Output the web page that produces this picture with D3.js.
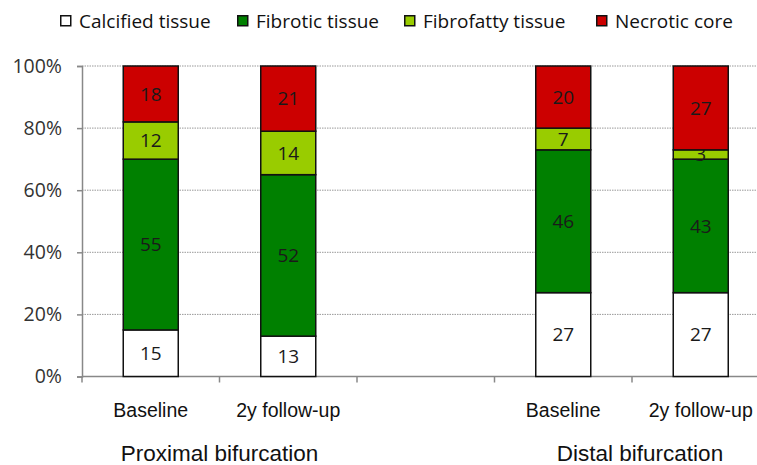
<!DOCTYPE html>
<html>
<head>
<meta charset="utf-8">
<script src="https://cdn.jsdelivr.net/npm/d3@7"></script>
<style>
  body { margin: 0; background: #fff; }
  svg { display: block; }
</style>
</head>
<body>
<div id="chart"></div>
<script>
// categories (slot 2 is the empty gap between the two groups)
var slots = ["Baseline", "2y follow-up", "", "Baseline", "2y follow-up"];
var groups = ["Proximal bifurcation", "Distal bifurcation"];
var groupSlots = [[0, 1], [3, 4]];
var series = ["Calcified tissue", "Fibrotic tissue", "Fibrofatty tissue", "Necrotic core"];
var colors = ["#ffffff", "#008000", "#99cc00", "#cc0000"];

// values in %, one per slot
var calcified = [15, 13, null, 27, 27];
var fibrotic = [55, 52, null, 46, 43];
var fibrofatty = [12, 14, null, 7, 3];
var necrotic = [18, 21, null, 20, 27];

var yTicks = [0, 20, 40, 60, 80, 100];

var width = 757, height = 465;
var margin = {top: 66, left: 82, bottom: 89};

var svg = d3.select("#chart")
  .append("svg")
  .attr("width", width)
  .attr("height", height);

var rows = slots.map(function(s, i) {
  return {slot: i, label: s, "Calcified tissue": calcified[i], "Fibrotic tissue": fibrotic[i],
    "Fibrofatty tissue": fibrofatty[i], "Necrotic core": necrotic[i]};
}).filter(function(d) { return d["Calcified tissue"] != null; });

var x = d3.scaleBand()
  .domain(d3.range(slots.length))
  .range([margin.left, margin.left + 137.5 * slots.length])
  .paddingInner(0.6)
  .paddingOuter(0.3);
var step = x.step();

var y = d3.scaleLinear()
  .domain([0, 100])
  .range([height - margin.bottom + 0.5, margin.top]);

// dotted grid
svg.append("g")
  .selectAll("line")
  .data(yTicks.filter(function(t) { return t > 0; }))
  .enter()
  .append("line")
    .attr("x1", margin.left)
    .attr("x2", width)
    .attr("y1", function(d) { return y(d); })
    .attr("y2", function(d) { return y(d); })
    .style("stroke", "#999")
    .style("stroke-width", 1)
    .style("stroke-dasharray", "1.5,1");

// y axis
var yAxis = svg.append("g")
  .attr("transform", "translate(" + margin.left + ",0)")
  .call(d3.axisLeft(y).tickValues(yTicks).tickSize(5).tickPadding(15)
    .tickFormat(function(d) { return d + "%"; }));
yAxis.select(".domain").style("stroke", "#888").style("stroke-width", 1.5);
yAxis.selectAll(".tick line").style("stroke", "#888").style("stroke-width", 1.5);
yAxis.selectAll("text")
  .attr("font-family", "'Open Sans', sans-serif")
  .attr("font-size", "19.5px")
  .attr("fill", "#333");

// x axis line with ticks at slot boundaries
svg.append("line")
  .attr("x1", margin.left).attr("x2", width)
  .attr("y1", y(0)).attr("y2", y(0))
  .style("stroke", "#888").style("stroke-width", 1.5);
svg.append("g")
  .selectAll("line")
  .data(d3.range(slots.length + 1))
  .enter()
  .append("line")
    .attr("x1", function(d) { return margin.left + d * step; })
    .attr("x2", function(d) { return margin.left + d * step; })
    .attr("y1", y(0))
    .attr("y2", y(0) + 6)
    .style("stroke", "#888").style("stroke-width", 1.5);

// stacked bars
var stack = d3.stack().keys(series)(rows);
var layers = svg.append("g")
  .selectAll("g")
  .data(stack)
  .enter()
  .append("g")
    .attr("fill", function(d, i) { return colors[i]; });

layers.selectAll("rect")
  .data(function(d) { return d; })
  .enter()
  .append("rect")
    .attr("x", function(d) { return x(d.data.slot); })
    .attr("y", function(d) { return y(d[1]); })
    .attr("width", x.bandwidth())
    .attr("height", function(d) { return y(d[0]) - y(d[1]); })
    .style("stroke", "#111")
    .style("stroke-width", 1.5);

layers.selectAll("text")
  .data(function(d) { return d; })
  .enter()
  .append("text")
    .attr("x", function(d) { return x(d.data.slot) + x.bandwidth() / 2; })
    .attr("y", function(d) { return (y(d[0]) + y(d[1])) / 2; })
    .attr("dy", "0.36em")
    .attr("text-anchor", "middle")
    .attr("font-family", "'Open Sans', sans-serif")
    .attr("font-size", "19px")
    .attr("fill", "#1a1a1a")
    .text(function(d) { return d[1] - d[0]; });

// category labels
var narrow = "'Liberation Sans Narrow', 'Arial Narrow', 'Liberation Sans', sans-serif";
svg.append("g")
  .selectAll("text")
  .data(rows)
  .enter()
  .append("text")
    .attr("x", function(d) { return x(d.slot) + x.bandwidth() / 2; })
    .attr("y", 417)
    .attr("text-anchor", "middle")
    .attr("font-family", narrow)
    .attr("font-size", "19.5px")
    .attr("fill", "#111")
    .text(function(d) { return d.label; });

// group labels
svg.append("g")
  .selectAll("text")
  .data(groups)
  .enter()
  .append("text")
    .attr("x", function(d, i) {
      var s = groupSlots[i];
      return (x(s[0]) + x(s[1]) + x.bandwidth()) / 2 + (i === 1 ? 8 : 0);
    })
    .attr("y", 461)
    .attr("text-anchor", "middle")
    .attr("font-family", narrow)
    .attr("font-size", "22.5px")
    .attr("fill", "#111")
    .text(function(d) { return d; });

// legend
var legendX = [60, 237, 404, 596];
var legend = svg.append("g")
  .selectAll("g")
  .data(series)
  .enter()
  .append("g")
    .attr("transform", function(d, i) { return "translate(" + legendX[i] + ",15)"; });
legend.append("rect")
  .attr("x", 0.75).attr("y", 0.75)
  .attr("width", 10).attr("height", 10)
  .attr("fill", function(d, i) { return colors[i]; })
  .style("stroke", "#111")
  .style("stroke-width", 1.5);
legend.append("text")
  .attr("x", 19)
  .attr("y", 13)
  .attr("font-family", "'Open Sans', sans-serif")
  .attr("font-size", "19px")
  .attr("fill", "#111")
  .text(function(d) { return d; });
</script>
</body>
</html>
